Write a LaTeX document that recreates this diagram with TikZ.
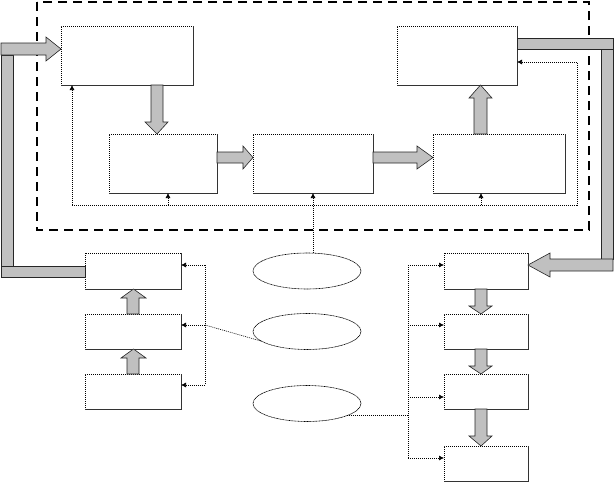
\documentclass[tikz,border=0pt]{standalone}
\usetikzlibrary{arrows.meta,shapes.geometric}
\definecolor{blockgray}{HTML}{C0C0C0}
\begin{document}
\begin{tikzpicture}[x=1pt,y=-1pt,
  boxnode/.style={draw=black,line width=0.6pt,dash pattern=on 1pt off 1pt,fill=white,inner sep=0pt,outer sep=0pt},
  ellnode/.style={ellipse,draw=black,line width=0.6pt,dash pattern=on 1pt off 0.5pt,inner sep=0pt,outer sep=0pt,minimum width=108pt,minimum height=36pt},
  shadowedge/.style={draw=black!80,line width=0.8pt},
  fb/.style={draw=black,line width=0.6pt,dash pattern=on 1pt off 1pt},
  fbar/.style={fb,-{Latex[length=5pt,width=5pt]}},
  blockarrow/.style={fill=blockgray,draw=black!85,line width=0.6pt,line join=miter},
  frame/.style={draw=black,line width=1.6pt,dash pattern=on 9pt off 6pt}]
\useasboundingbox (0,0) rectangle (614,482);

% dashed frame
\draw[frame] (37,2) rectangle (589,230);

% nodes
\node[boxnode,minimum width=132pt,minimum height=59pt] (A) at (127,55.5) {};
\node[boxnode,minimum width=108pt,minimum height=59pt] (B) at (163,163.5) {};
\node[boxnode,minimum width=120pt,minimum height=59pt] (C) at (313,163.5) {};
\node[boxnode,minimum width=132pt,minimum height=59pt] (D) at (499,163.5) {};
\node[boxnode,minimum width=120pt,minimum height=59pt] (E) at (457,55.5) {};
\node[boxnode,minimum width=96pt,minimum height=36pt] (F) at (133,271) {};
\node[boxnode,minimum width=96pt,minimum height=35pt] (G) at (133,331.5) {};
\node[boxnode,minimum width=96pt,minimum height=35pt] (H) at (133,391.5) {};
\node[boxnode,minimum width=84pt,minimum height=36pt] (I) at (486,271) {};
\node[boxnode,minimum width=84pt,minimum height=35pt] (J) at (486,331.5) {};
\node[boxnode,minimum width=84pt,minimum height=35pt] (K) at (486,391.5) {};
\node[boxnode,minimum width=84pt,minimum height=35pt] (L) at (486,463.5) {};
\node[ellnode] (e1) at (307,271) {};
\node[ellnode] (e2) at (307,331.5) {};
\node[ellnode] (e3) at (307,403.5) {};

% solid bottom/right edges
\foreach \n in {A,B,C,D,E,F,G,H,I,J,K,L}
  \draw[shadowedge] (\n.south west) -- (\n.south east) -- (\n.north east);

% left L-shaped block arrow (F to A)
\draw[blockarrow] (1,55) rectangle (13,266);
\draw[blockarrow] (1,266) rectangle (F.west |- 0,277);
\draw[blockarrow] (1,43) -- (46,43) -- (46,37) -- (A.west |- 0,49) -- (46,61) -- (46,55) -- (1,55) -- cycle;
% right L-shaped block arrow (E to I)
\draw[blockarrow] (E.east |- 0,38) rectangle (613,49);
\draw[blockarrow] (601,49) rectangle (613,259);
\draw[blockarrow] (613,259) -- (550,259) -- (550,253) -- (I.east |- 0,265) -- (550,277) -- (550,271) -- (613,271) -- cycle;

% block arrows inside frame
\draw[blockarrow] (151,0 |- A.south) -- (163,0 |- A.south) -- (163,122) -- (168,122) -- (157,0 |- B.north) -- (145,122) -- (151,122) -- cycle;
\draw[blockarrow] (B.east |- 0,152) -- (243,152) -- (243,146) -- (C.west |- 0,157.5) -- (243,169) -- (243,163) -- (B.east |- 0,163) -- cycle;
\draw[blockarrow] (C.east |- 0,152) -- (417,152) -- (417,146) -- (D.west |- 0,157.5) -- (417,169) -- (417,163) -- (C.east |- 0,163) -- cycle;
\draw[blockarrow] (474,0 |- D.north) -- (474,98) -- (469,98) -- (480.5,0 |- E.south) -- (492,98) -- (487,98) -- (487,0 |- D.north) -- cycle;
% left column up arrows
\draw[blockarrow] (127,0 |- G.north) -- (127,298) -- (121,298) -- (133.5,0 |- F.south) -- (146,298) -- (139,298) -- (139,0 |- G.north) -- cycle;
\draw[blockarrow] (127,0 |- H.north) -- (127,358) -- (121,358) -- (133.5,0 |- G.south) -- (146,358) -- (139,358) -- (139,0 |- H.north) -- cycle;
% right column down arrows
\draw[blockarrow] (475,0 |- I.south) -- (475,306) -- (469,306) -- (481,0 |- J.north) -- (492,306) -- (487,306) -- (487,0 |- I.south) -- cycle;
\draw[blockarrow] (475,0 |- J.south) -- (475,366) -- (469,366) -- (481,0 |- K.north) -- (492,366) -- (487,366) -- (487,0 |- J.south) -- cycle;
\draw[blockarrow] (475,0 |- K.south) -- (475,436) -- (469,436) -- (481,0 |- L.north) -- (492,436) -- (487,436) -- (487,0 |- K.south) -- cycle;

% feedback loop inside frame
\coordinate (lb) at (72,205);
\coordinate (rb) at (577,205);
\coordinate (rt) at (577,62);
\draw[fb] (lb) -- (rb) -- (rt);
\draw[fbar] (rt) -- (E.east |- rt);
\draw[fbar] (lb) -- (A.south -| lb);
\coordinate (bb) at (168,205);
\draw[fbar] (bb) -- (B.south -| bb);
\coordinate (db) at (481,205);
\draw[fbar] (db) -- (D.south -| db);
\draw[fbar] (e1.north -| C.south) -- (C.south);

% left bus
\coordinate (lt) at (205,265);
\coordinate (lm) at (205,325);
\coordinate (lbt) at (205,385);
\draw[fb] (lt) -- (lbt);
\draw[fbar] (lt) -- (F.east |- lt);
\draw[fbar] (lm) -- (G.east |- lm);
\draw[fbar] (lbt) -- (H.east |- lbt);
\draw[fb] (e2.192) -- (lm);

% right bus
\coordinate (r1) at (408,265);
\coordinate (r2) at (408,325);
\coordinate (r3) at (408,397);
\coordinate (r4) at (408,458);
\draw[fb] (r1) -- (r4);
\draw[fbar] (r1) -- (I.west |- r1);
\draw[fbar] (r2) -- (J.west |- r2);
\draw[fbar] (r3) -- (K.west |- r3);
\draw[fbar] (r4) -- (L.west |- r4);
\draw[fb] (e3.-17) -- (e3.-17 -| r1);
\end{tikzpicture}
\end{document}
